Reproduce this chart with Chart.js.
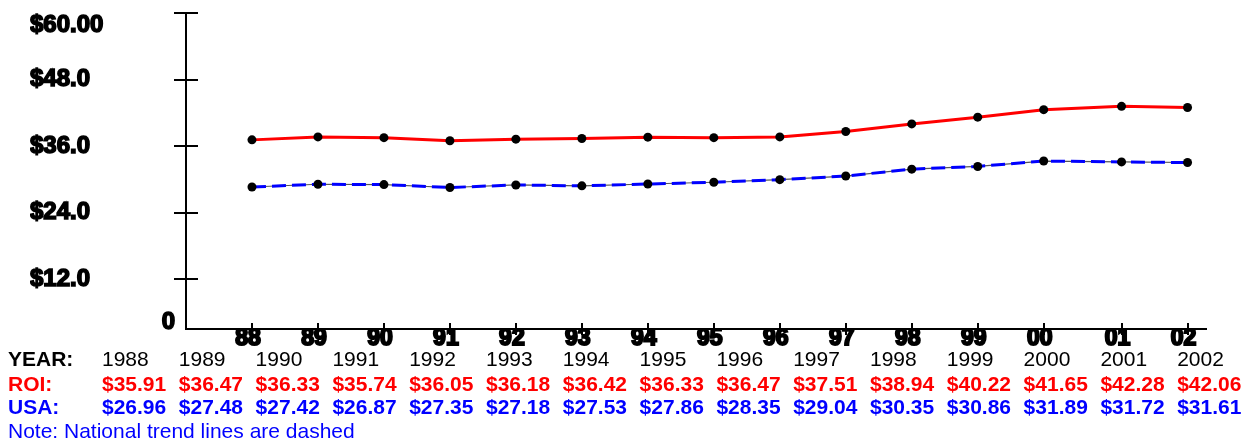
<!DOCTYPE html>
<html><head><meta charset="utf-8">
<script src="https://cdn.jsdelivr.net/npm/chart.js@4.4.0/dist/chart.umd.min.js"></script>
<style>
html,body{margin:0;padding:0;background:#fff;overflow:hidden;}
#wrap{position:relative;width:1249px;height:442px;}
canvas{position:absolute;left:0;top:0;}
.row{position:absolute;left:0;width:1249px;height:24px;font-family:"Liberation Sans",Arial,sans-serif;font-size:21px;line-height:24px;white-space:nowrap;}
.row span{position:absolute;top:0;}
.b{font-weight:bold;}
</style></head><body>
<div id="wrap"><canvas id="c" width="1249" height="442"></canvas><div id="table"></div></div>
<script>
// ---- data ----
const years = ['1988','1989','1990','1991','1992','1993','1994','1995','1996','1997','1998','1999','2000','2001','2002'];
const xTickLabels = ['88','89','90','91','92','93','94','95','96','97','98','99','00','01','02'];
const plotYears = [1988,1989,1990,1991,1992,1993,1994,1995,1996,1997,1998,1999,2000,2001.18,2002.18];
const roiValues = [35.91,36.47,36.33,35.74,36.05,36.18,36.42,36.33,36.47,37.51,38.94,40.22,41.65,42.28,42.06];
const usaValues = [26.96,27.48,27.42,26.87,27.35,27.18,27.53,27.86,28.35,29.04,30.35,30.86,31.89,31.72,31.61];
const yTickValues = [12,24,36,48,60];
const yTickLabels = ['$12.0','$24.0','$36.0','$48.0','$60.00'];
const noteText = 'Note: National trend lines are dashed';

const FONT = '"Liberation Sans", Arial, sans-serif';

// ---- table below chart ----
const table = document.getElementById('table');
function addRow(top, label, labelColor, values, valueColor, bold) {
  const row = document.createElement('div');
  row.className = 'row';
  row.style.top = top + 'px';
  const l = document.createElement('span');
  l.className = 'b'; l.style.left = '8px'; l.style.color = labelColor; l.textContent = label;
  row.appendChild(l);
  values.forEach((v, i) => {
    const s = document.createElement('span');
    if (bold) s.className = 'b';
    s.style.left = (102 + 76.8 * i) + 'px';
    s.style.color = valueColor;
    s.textContent = v;
    row.appendChild(s);
  });
  table.appendChild(row);
}
addRow(347, 'YEAR:', '#000', years, '#000', false);
addRow(372, 'ROI:', '#ff0000', roiValues.map(v => '$' + v.toFixed(2)), '#ff0000', true);
addRow(395, 'USA:', '#0000ff', usaValues.map(v => '$' + v.toFixed(2)), '#0000ff', true);
const note = document.createElement('div');
note.className = 'row'; note.style.top = '419px'; note.style.color = '#0000ff';
note.innerHTML = '<span style="left:8px"></span>';
note.firstChild.textContent = noteText;
table.appendChild(note);

// ---- chart ----
const pts = vals => vals.map((v, i) => ({x: plotYears[i], y: v}));

const crossTicks = {
  id: 'crossTicks',
  afterDraw(chart) {
    const ctx = chart.ctx, ya = chart.scales.yLab, xa = chart.scales.x;
    const area = chart.chartArea;
    ctx.save();
    ctx.strokeStyle = '#000'; ctx.lineWidth = 2;
    ya.ticks.forEach(t => {
      const p = Math.round(ya.getPixelForValue(t.value));
      ctx.beginPath(); ctx.moveTo(area.left - 12, p); ctx.lineTo(area.left + 12, p); ctx.stroke();
    });
    xa.ticks.forEach(t => {
      const p = Math.round(xa.getPixelForValue(t.value));
      ctx.beginPath(); ctx.moveTo(p, area.bottom - 6); ctx.lineTo(p, area.bottom + 6); ctx.stroke();
    });
    ctx.restore();
  }
};

new Chart(document.getElementById('c'), {
  type: 'line',
  data: {
    datasets: [
      {
        label: 'ROI', data: pts(roiValues), borderColor: '#ff0000', borderWidth: 3,
        pointRadius: 4.5, pointBackgroundColor: '#000', pointBorderColor: '#000', pointBorderWidth: 0,
        tension: 0, order: 1, xAxisID: 'x', yAxisID: 'y'
      },
      {
        label: 'USA', data: pts(usaValues), borderColor: '#0000ff', borderWidth: 3, borderDash: [14, 6],
        pointRadius: 4.5, pointBackgroundColor: '#000', pointBorderColor: '#000', pointBorderWidth: 0,
        tension: 0, order: 2, xAxisID: 'x', yAxisID: 'y'
      },
      {
        label: 'USA base', data: pts(usaValues), borderColor: '#555555', borderWidth: 1.2,
        pointRadius: 0, tension: 0, order: 3, xAxisID: 'x', yAxisID: 'y'
      }
    ]
  },
  options: {
    responsive: false, animation: false, devicePixelRatio: 1,
    layout: { autoPadding: false, padding: { left: 30, top: 13, right: 43, bottom: 93 } },
    plugins: { legend: { display: false }, tooltip: { enabled: false } },
    scales: {
      x: {
        type: 'linear', position: 'bottom', min: 1987, max: 2002.46,
        afterBuildTicks: s => { s.ticks = plotYears.map(v => ({value: v})); },
        afterFit: s => { s.height = 20; s.paddingLeft = 0; s.paddingRight = 0; },
        grid: { display: false, drawTicks: false },
        border: { display: true, color: '#000', width: 2 },
        ticks: {
          autoSkip: false, maxRotation: 0, padding: 0, labelOffset: -4,
          color: '#000', textStrokeColor: '#000', textStrokeWidth: 2,
          font: { family: FONT, size: 23, weight: 'bold', lineHeight: 0.8 },
          callback: (v, i) => xTickLabels[i]
        }
      },
      yLab: {
        type: 'linear', position: 'left', weight: 2, min: 3, max: 60,
        afterBuildTicks: s => { s.ticks = yTickValues.map(v => ({value: v})); },
        afterFit: s => { s.width = 131; s.paddingTop = 0; s.paddingBottom = 0; },
        grid: { display: false, drawTicks: false },
        border: { display: false },
        ticks: {
          crossAlign: 'far', padding: 0, autoSkip: false,
          color: '#000', textStrokeColor: '#000', textStrokeWidth: 1.6,
          font: { family: FONT, size: 24, weight: 'bold', lineHeight: 1 },
          callback: (v, i) => {
            const lab = yTickLabels[yTickValues.indexOf(v)];
            return v === 60 ? ['', lab] : lab;
          }
        }
      },
      y: {
        type: 'linear', position: 'left', weight: 1, min: 0, max: 60,
        afterBuildTicks: s => { s.ticks = [{value: 0}]; },
        afterFit: s => { s.width = 25; s.paddingTop = 0; s.paddingBottom = 0; },
        grid: { display: false, drawTicks: false },
        border: { display: true, color: '#000', width: 2 },
        ticks: {
          crossAlign: 'near', padding: 11, autoSkip: false,
          color: '#000', textStrokeColor: '#000', textStrokeWidth: 1.6,
          font: { family: FONT, size: 24, weight: 'bold', lineHeight: 14 / 24 },
          callback: v => ['0', '']
        }
      }
    }
  },
  plugins: [crossTicks]
});
</script>
</body></html>
